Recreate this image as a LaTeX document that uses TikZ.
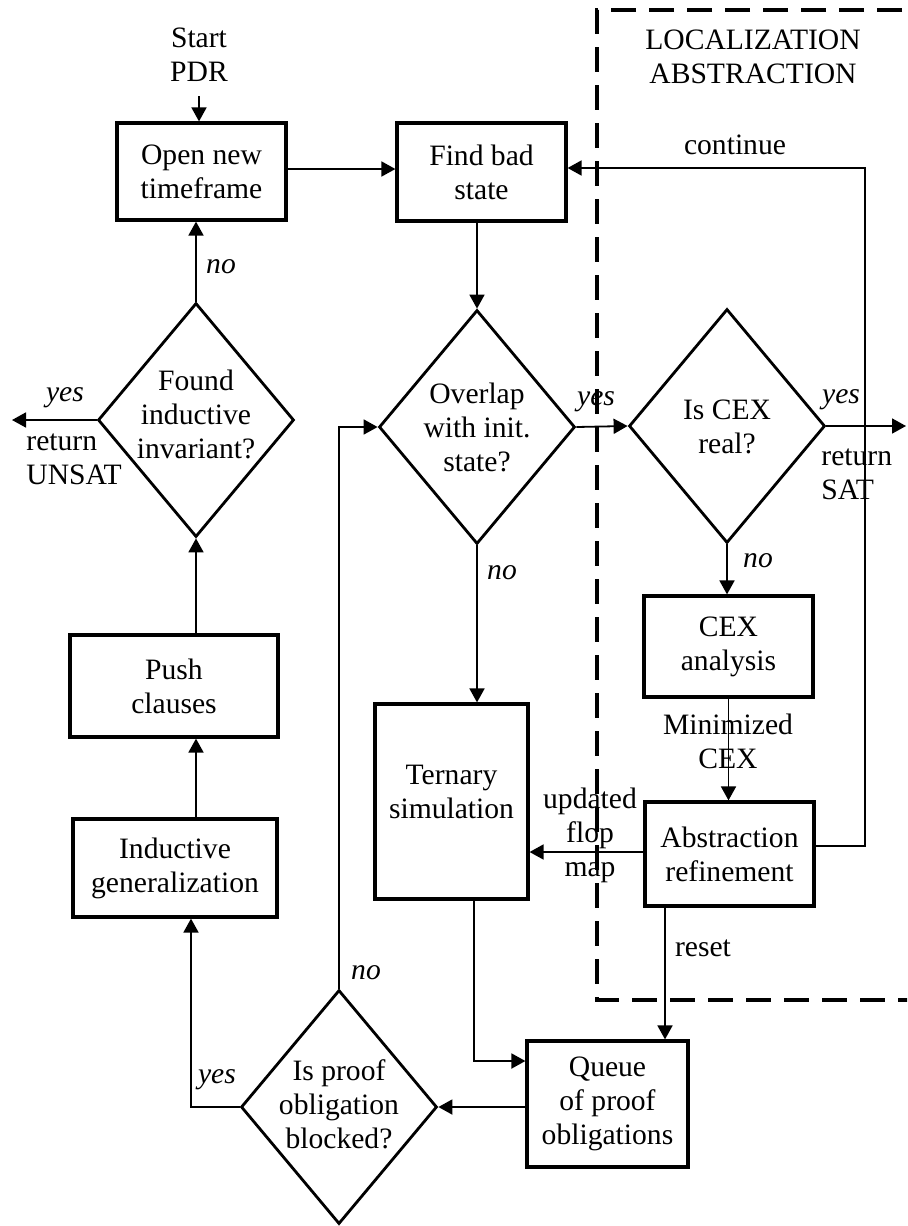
\documentclass[tikz,border=0pt]{standalone}
\usepackage{fontspec}
\setmainfont{Liberation Serif}
\usetikzlibrary{arrows.meta,shapes.geometric}
\begin{document}
\begin{tikzpicture}[x=0.5pt,y=-0.5pt,
  font=\fontsize{14.8}{17}\selectfont,
  stepbox/.style={draw, line width=1.6pt, rectangle, align=center, inner sep=0pt},
  decision/.style={draw, line width=1.4pt, diamond, inner sep=0pt, minimum width=98pt, minimum height=117pt},
  flow/.style={line width=0.9pt, -{Triangle[length=7pt,width=7.5pt]}},
  tag/.style={font=\fontsize{14.8}{17}\selectfont\itshape, inner sep=0pt},
  note/.style={align=center, inner sep=0pt},
  region/.style={line width=2pt, dash pattern=on 12.5pt off 6.5pt},
]
\clip (0,0) rectangle (907,1226);

% localization abstraction region
\draw[region] (940,10) -- (597,10) -- (597,1000) -- (940,1000);
\node[note] (locab) at (753,57) {LOCALIZATION\\ABSTRACTION};

% process steps
\node[note] (start) at (199,55) {Start\\PDR};
\node[stepbox, minimum width=84.5pt, minimum height=48.5pt] (open) at (201.5,171.5) {Open new\\timeframe};
\node[stepbox, minimum width=84.5pt, minimum height=49pt] (find) at (481.5,172) {Find bad\\state};
\node[stepbox, minimum width=104pt, minimum height=51pt] (push) at (174,686) {Push\\clauses};
\node[stepbox, minimum width=102pt, minimum height=49pt] (indgen) at (175,868) {Inductive\\generalization};
\node[stepbox, minimum width=76.5pt, minimum height=97.5pt] (ternary) at (451.5,801.5) {};
\node[note] (ternarytxt) at (451.5,792) {Ternary\\simulation};
\node[stepbox, minimum width=84.5pt, minimum height=50.5pt] (cexan) at (728.5,646.5) {CEX\\analysis};
\node[stepbox, minimum width=84.5pt, minimum height=52pt] (absref) at (729.5,854) {Abstraction\\refinement};
\node[stepbox, minimum width=80.5pt, minimum height=63pt] (queue) at (607.5,1104) {Queue\\of proof\\obligations};

% decisions
\node[decision] (found) at (196,420) {};
\node[note] (foundtxt) at (196,414) {Found\\inductive\\invariant?};
\node[decision] (overlap) at (477,427) {};
\node[note] (overlaptxt) at (477,427) {Overlap\\with init.\\state?};
\node[decision] (cex) at (727,426) {};
\node[note] (cextxt) at (727,427) {Is CEX\\real?};
\node[decision] (isproof) at (339,1107) {};
\node[note] (isprooftxt) at (339,1104) {Is proof\\obligation\\blocked?};

% free ends and bends
\coordinate (unsatend) at (12,420);
\coordinate (satend) at (906,426);
\coordinate (cturn) at (865,168);

% connectors
\draw[flow] ([yshift=-7pt]start.south) -- (start.south |- open.north);
\draw[flow] (open.east |- 0,169) -- (find.west |- 0,169);
\draw[flow] (overlap.north |- find.south) -- (overlap.north);
\draw[flow] (overlap.east) -- (cex.west);
\draw[flow] (overlap.south) -- (overlap.south |- ternary.north);
\draw[flow] (cex.east) -- (satend);
\draw[flow] (cex.south) -- (cex.south |- cexan.north);
\draw[flow] (cexan.south) -- (cexan.south |- absref.north);
\draw[flow] ([yshift=4pt]absref.east) -| (cturn) -- (find.east |- cturn);
\draw[flow] ([yshift=1pt]absref.west) -- (ternary.east |- 0,852);
\draw[flow] ([xshift=-32.25pt]absref.south) -- ([xshift=-32.25pt]absref.south |- queue.north);
\draw[flow] ([xshift=11.25pt]ternary.south) |- ([yshift=21.5pt]queue.west);
\draw[flow] (queue.west |- isproof.east) -- (isproof.east);
\draw[flow] (isproof.west) -| ([xshift=8pt]indgen.south);
\draw[flow] (isproof.north) |- (overlap.west);
\draw[flow] (found.south |- indgen.north) -- (found.south |- push.south);
\draw[flow] (found.south |- push.north) -- (found.south);
\draw[flow] (found.north) -- (found.north |- open.south);
\draw[flow] (found.west) -- (unsatend);

% connector labels
\node[tag] (noopen) at (221,267) {no};
\node[tag] (yesunsat) at (65,398) {yes};
\node[note, align=left, anchor=west] (unsat) at (26,459) {return\\UNSAT};
\node[tag] (yesoverlap) at (596,402) {yes};
\node[tag] (nooverlap) at (502,573) {no};
\node[tag] (yessat) at (841,400) {yes};
\node[note, align=left, anchor=west] (sat) at (821,474) {return\\SAT};
\node[tag] (nocex) at (758,561) {no};
\node[note] (mincex) at (728,741) {Minimized\\CEX};
\node[note] (flopmap) at (590,835) {updated\\flop\\map};
\node[note] (contlbl) at (735,145) {continue};
\node[note] (resetlbl) at (703,948) {reset};
\node[tag] (noproof) at (366,973) {no};
\node[tag] (yesproof) at (217,1080) {yes};
\end{tikzpicture}
\end{document}
